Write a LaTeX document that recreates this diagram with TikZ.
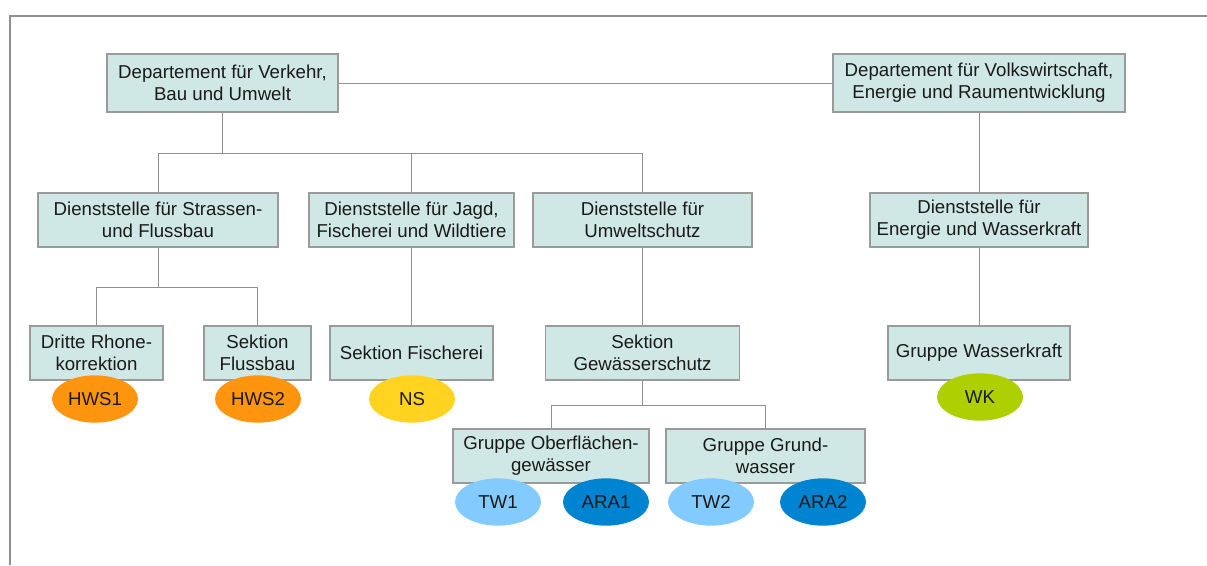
\documentclass[tikz,border=0pt]{standalone}
\usepackage{fontspec}
\setmainfont{Liberation Sans}
\usetikzlibrary{shapes.geometric}

\definecolor{boxfill}{HTML}{D0E8E5}
\definecolor{boxline}{HTML}{9A9A9A}
\definecolor{wire}{HTML}{909090}
\definecolor{ink}{HTML}{1A1A1A}
\definecolor{tagorange}{HTML}{FF950E}
\definecolor{tagyellow}{HTML}{FFD320}
\definecolor{taglight}{HTML}{83CAFF}
\definecolor{tagblue}{HTML}{0084D1}
\definecolor{taggreen}{HTML}{AECF00}

\tikzset{
  orgbox/.style={draw=boxline, fill=boxfill, line width=0.8pt, inner sep=0pt,
    align=center, text=ink, font=\fontsize{14pt}{16.3pt}\selectfont},
  tag/.style={ellipse, draw=none, fill=#1, inner sep=0pt,
    minimum width=64.5pt, minimum height=35.5pt, text=ink,
    font=\fontsize{14pt}{16.3pt}\selectfont},
  wireline/.style={draw=wire, line width=0.65pt},
  frameline/.style={draw=wire, line width=0.9pt},
}

\begin{document}
\begin{tikzpicture}[x=0.75pt, y=-0.75pt]
\useasboundingbox (0,0) rectangle (1207,565);

% outer frame (open to the right and bottom)
\draw[frameline] (10,565) -- (10,16) -- (1207,16);

% departments
\node[orgbox, minimum width=173.25pt, minimum height=43.5pt] (dvbu) at (222.5,83)
  {Departement für Verkehr,\\Bau und Umwelt};
\node[orgbox, minimum width=219pt, minimum height=43.5pt] (dvera) at (979,83)
  {Departement für Volkswirtschaft,\\Energie und Raumentwicklung};

% services
\node[orgbox, minimum width=180pt, minimum height=40.5pt] (sfs) at (158,220)
  {Dienststelle für Strassen-\\und Flussbau};
\node[orgbox, minimum width=153.75pt, minimum height=40.5pt] (sjf) at (411.5,220)
  {Dienststelle für Jagd,\\Fischerei und Wildtiere};
\node[orgbox, minimum width=164.25pt, minimum height=40.5pt] (sus) at (642.5,220)
  {Dienststelle für\\Umweltschutz};
\node[orgbox, minimum width=163.5pt, minimum height=40.5pt] (sew) at (979,220)
  {Dienststelle für\\Energie und Wasserkraft};

% sections
\node[orgbox, minimum width=99.75pt, minimum height=40.5pt] (rhone) at (96.5,353)
  {Dritte Rhone-\\korrektion};
\node[orgbox, minimum width=80.25pt, minimum height=40.5pt] (flb) at (257.5,353)
  {Sektion\\Flussbau};
\node[orgbox, minimum width=122.25pt, minimum height=40.5pt] (fis) at (411.5,353)
  {Sektion Fischerei};
\node[orgbox, minimum width=146pt, minimum height=40.5pt] (gws) at (642.5,353)
  {Sektion\\Gewässerschutz};
\node[orgbox, minimum width=136.5pt, minimum height=40.5pt] (wkg) at (979,353)
  {Gruppe Wasserkraft};

% groups
\node[orgbox, minimum width=147pt, minimum height=40.5pt] (ogw) at (551,456)
  {Gruppe Oberflächen-\\gewässer};
\node[orgbox, minimum width=149.25pt, minimum height=40.5pt] (grw) at (765.5,456)
  {Gruppe Grund-\\wasser};

% bus levels
\coordinate (busA) at (0,153);
\coordinate (busB) at (0,287);
\coordinate (busC) at (0,405);

% connectors
\draw[wireline] (dvbu.east) -- (dvera.west);
\draw[wireline] (dvbu.south) -- (dvbu.south |- busA) -| (sfs.north);
\draw[wireline] (dvbu.south |- busA) -| (sjf.north);
\draw[wireline] (dvbu.south |- busA) -| (sus.north);
\draw[wireline] (dvera.south) -- (sew.north);
\draw[wireline] (sfs.south) -- (sfs.south |- busB) -| (rhone.north);
\draw[wireline] (sfs.south |- busB) -| (flb.north);
\draw[wireline] (sjf.south) -- (fis.north);
\draw[wireline] (sus.south) -- (gws.north);
\draw[wireline] (gws.south) -- (gws.south |- busC) -| (ogw.north);
\draw[wireline] (gws.south |- busC) -| (grw.north);
\draw[wireline] (sew.south) -- (wkg.north);

% tags
\node[tag=tagorange] (hws1) at (95,399) {HWS1};
\node[tag=tagorange] (hws2) at (258,399) {HWS2};
\node[tag=tagyellow] (ns) at (412,399) {NS};
\node[tag=taggreen] (wk) at (980,397) {WK};
\node[tag=taglight] (tw1) at (498,502) {TW1};
\node[tag=tagblue] (ara1) at (606,502) {ARA1};
\node[tag=taglight] (tw2) at (711,502) {TW2};
\node[tag=tagblue] (ara2) at (823,502) {ARA2};
\end{tikzpicture}
\end{document}
